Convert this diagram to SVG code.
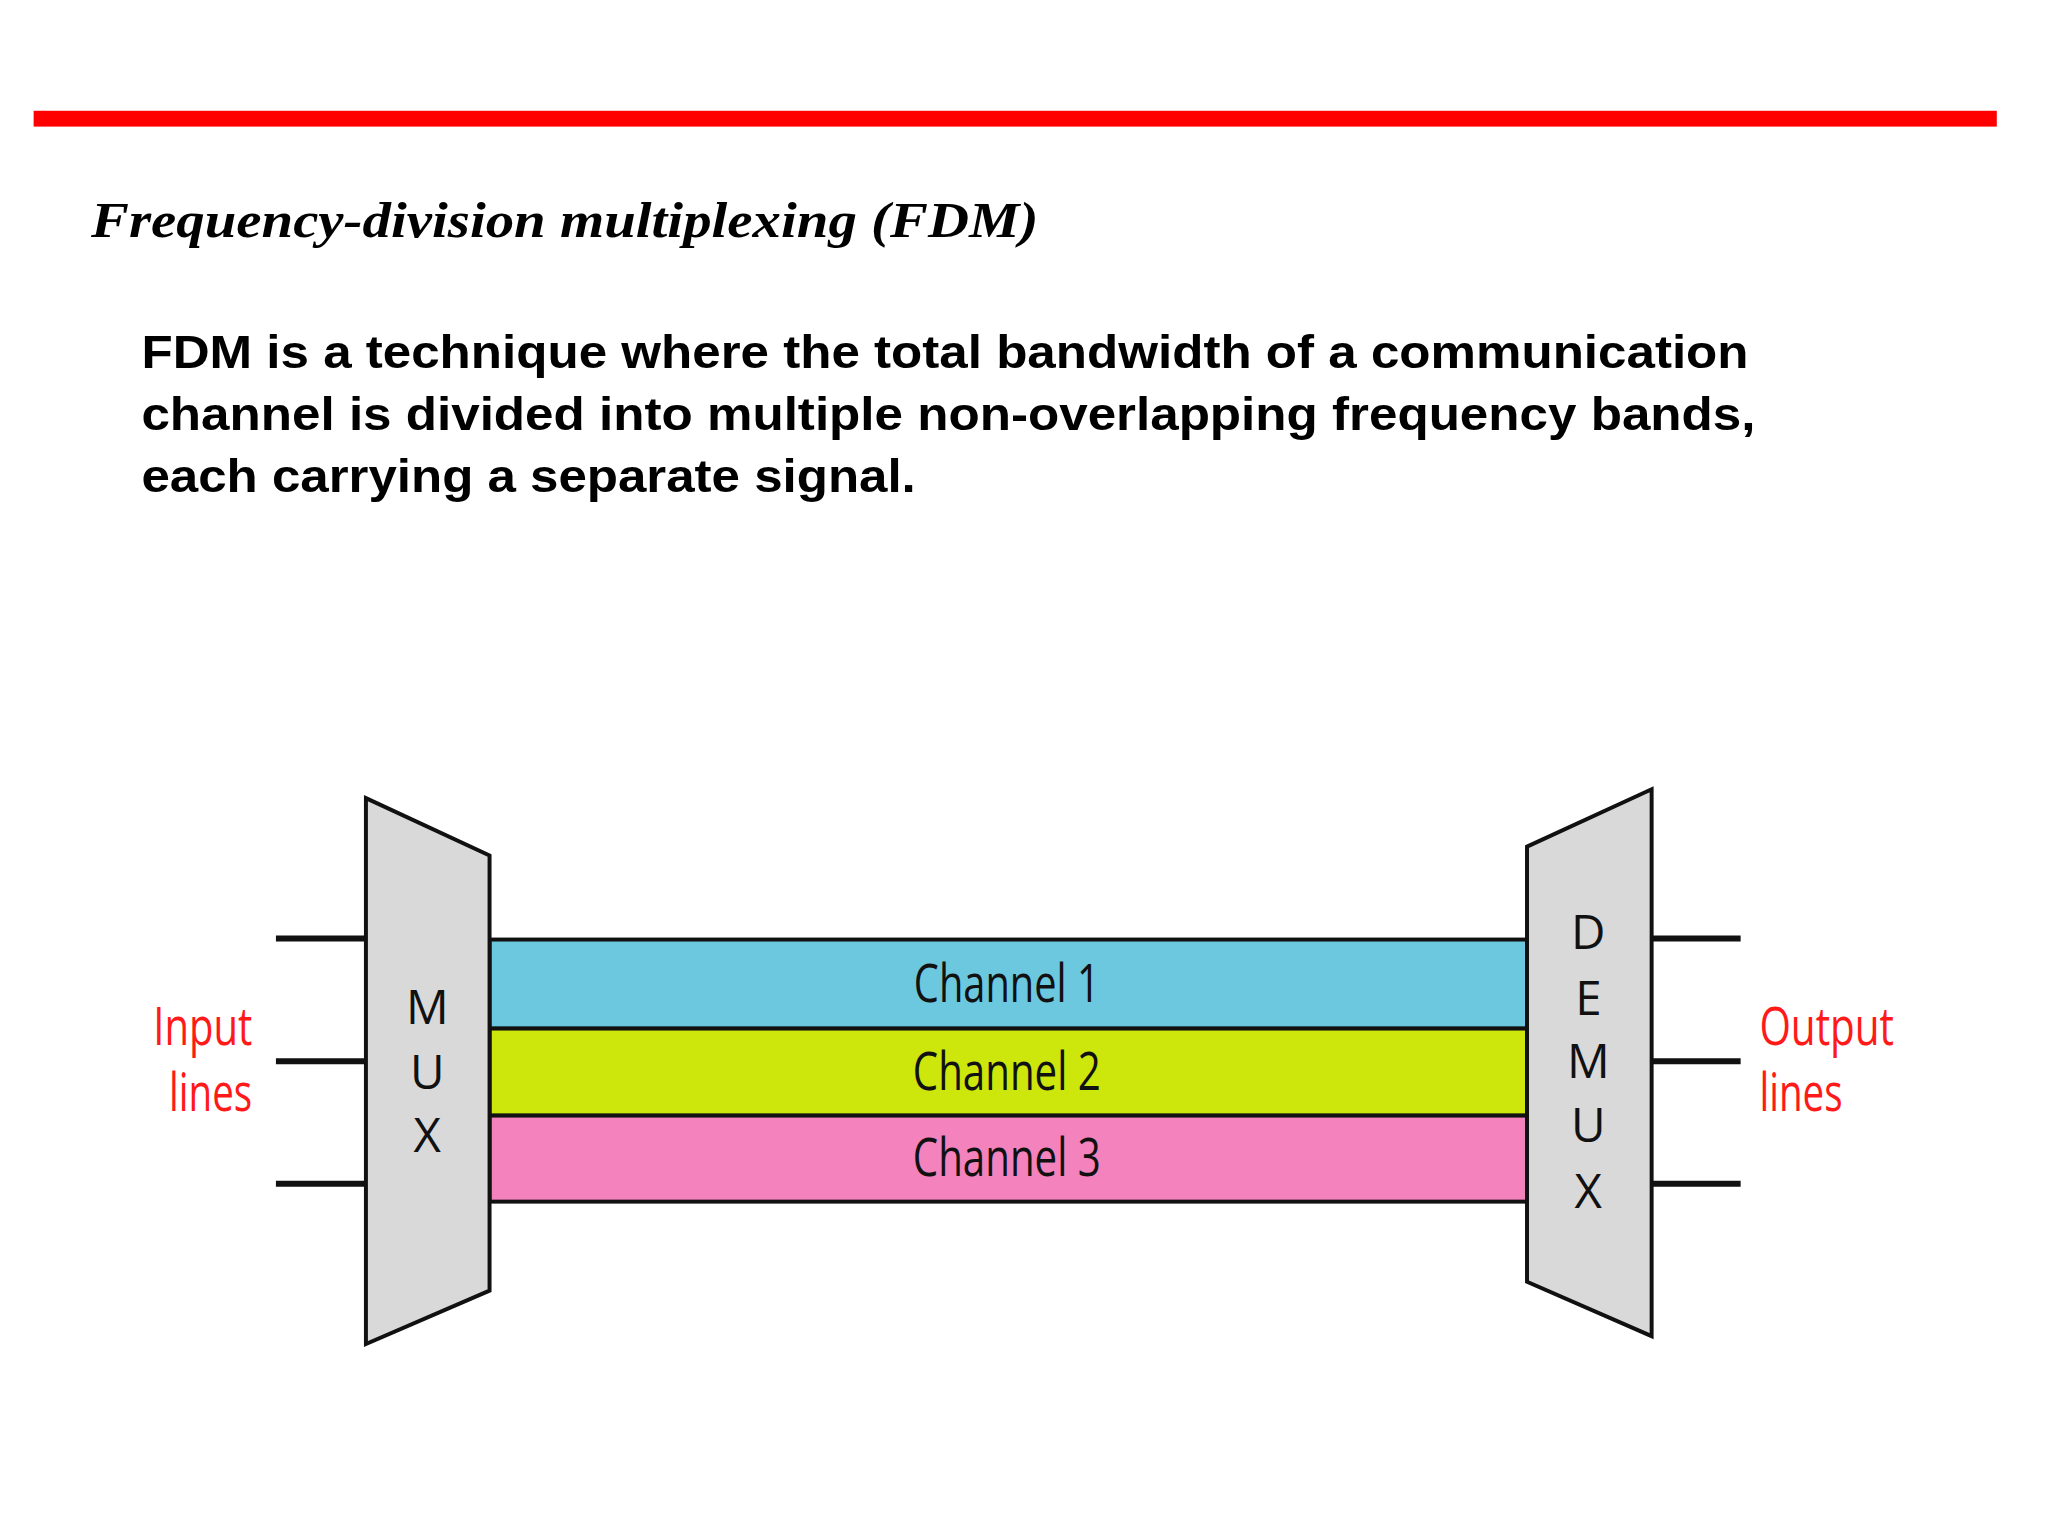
<svg xmlns="http://www.w3.org/2000/svg" width="2048" height="1536" viewBox="0 0 2048 1536">
<style>
.body{font-family:"Liberation Sans",Arial,sans-serif;font-weight:bold;font-size:47px;fill:#000}
.cl{font-family:"Open Sans","Noto Sans",sans-serif;font-size:54px;fill:#111;text-anchor:middle}
.lt{font-family:"Open Sans","Noto Sans",sans-serif;font-size:48px;fill:#111;text-anchor:middle}
.red{font-family:"Open Sans","Noto Sans",sans-serif;font-size:54px;fill:#ff1a1a}
.box{fill:#d9d9d9;stroke:#111;stroke-width:4}
.ln{stroke:#111;stroke-width:6}
.ch{stroke:#111;stroke-width:4}
</style>
<rect width="2048" height="1536" fill="#fff"/>
<g transform="scale(0.989)">
<rect x="34" y="112" width="1985" height="16" fill="#ff0000"/>
<text x="92" y="240" font-family="Liberation Serif,serif" font-style="italic" font-weight="bold" font-size="52" textLength="958" lengthAdjust="spacingAndGlyphs">Frequency-division multiplexing (FDM)</text>
<text class="body" x="143" y="372" textLength="1625" lengthAdjust="spacingAndGlyphs">FDM is a technique where the total bandwidth of a communication</text>
<text class="body" x="143" y="435" textLength="1632" lengthAdjust="spacingAndGlyphs">channel is divided into multiple non-overlapping frequency bands,</text>
<text class="body" x="143" y="497" textLength="783" lengthAdjust="spacingAndGlyphs">each carrying a separate signal.</text>
<g id="connectors">
<line class="ln" x1="279" y1="949" x2="370" y2="949"/>
<line class="ln" x1="279" y1="1073" x2="370" y2="1073"/>
<line class="ln" x1="279" y1="1197" x2="370" y2="1197"/>
<line class="ln" x1="1670" y1="949" x2="1760" y2="949"/>
<line class="ln" x1="1670" y1="1073" x2="1760" y2="1073"/>
<line class="ln" x1="1670" y1="1197" x2="1760" y2="1197"/>
</g>
<g id="channel1"><rect class="ch" x="495" y="950" width="1049" height="90" fill="#6cc8de"/><text class="cl" x="1018" y="1013" textLength="188" lengthAdjust="spacingAndGlyphs">Channel 1</text></g>
<g id="channel2"><rect class="ch" x="495" y="1040" width="1049" height="88" fill="#cde60b"/><text class="cl" x="1018" y="1102" textLength="190" lengthAdjust="spacingAndGlyphs">Channel 2</text></g>
<g id="channel3"><rect class="ch" x="495" y="1128" width="1049" height="87" fill="#f482bd"/><text class="cl" x="1018" y="1189" textLength="190" lengthAdjust="spacingAndGlyphs">Channel 3</text></g>
<g id="mux"><polygon class="box" points="370,807 495,865 495,1305 370,1359"/>
<g class="lt"><text x="432" y="1035">M</text><text x="432" y="1101">U</text><text x="432" y="1165">X</text></g></g>
<g id="demux"><polygon class="box" points="1544,856 1670,798 1670,1351 1544,1296"/>
<g class="lt"><text x="1606" y="960">D</text><text x="1606" y="1026">E</text><text x="1606" y="1090">M</text><text x="1606" y="1155">U</text><text x="1606" y="1221">X</text></g></g>
<g id="input"><text class="red" x="255" y="1057" text-anchor="end" textLength="100" lengthAdjust="spacingAndGlyphs">Input</text><text class="red" x="255" y="1123" text-anchor="end" textLength="84" lengthAdjust="spacingAndGlyphs">lines</text></g>
<g id="output"><text class="red" x="1779" y="1057" textLength="136" lengthAdjust="spacingAndGlyphs">Output</text><text class="red" x="1779" y="1123" textLength="84" lengthAdjust="spacingAndGlyphs">lines</text></g>
</g>
</svg>
